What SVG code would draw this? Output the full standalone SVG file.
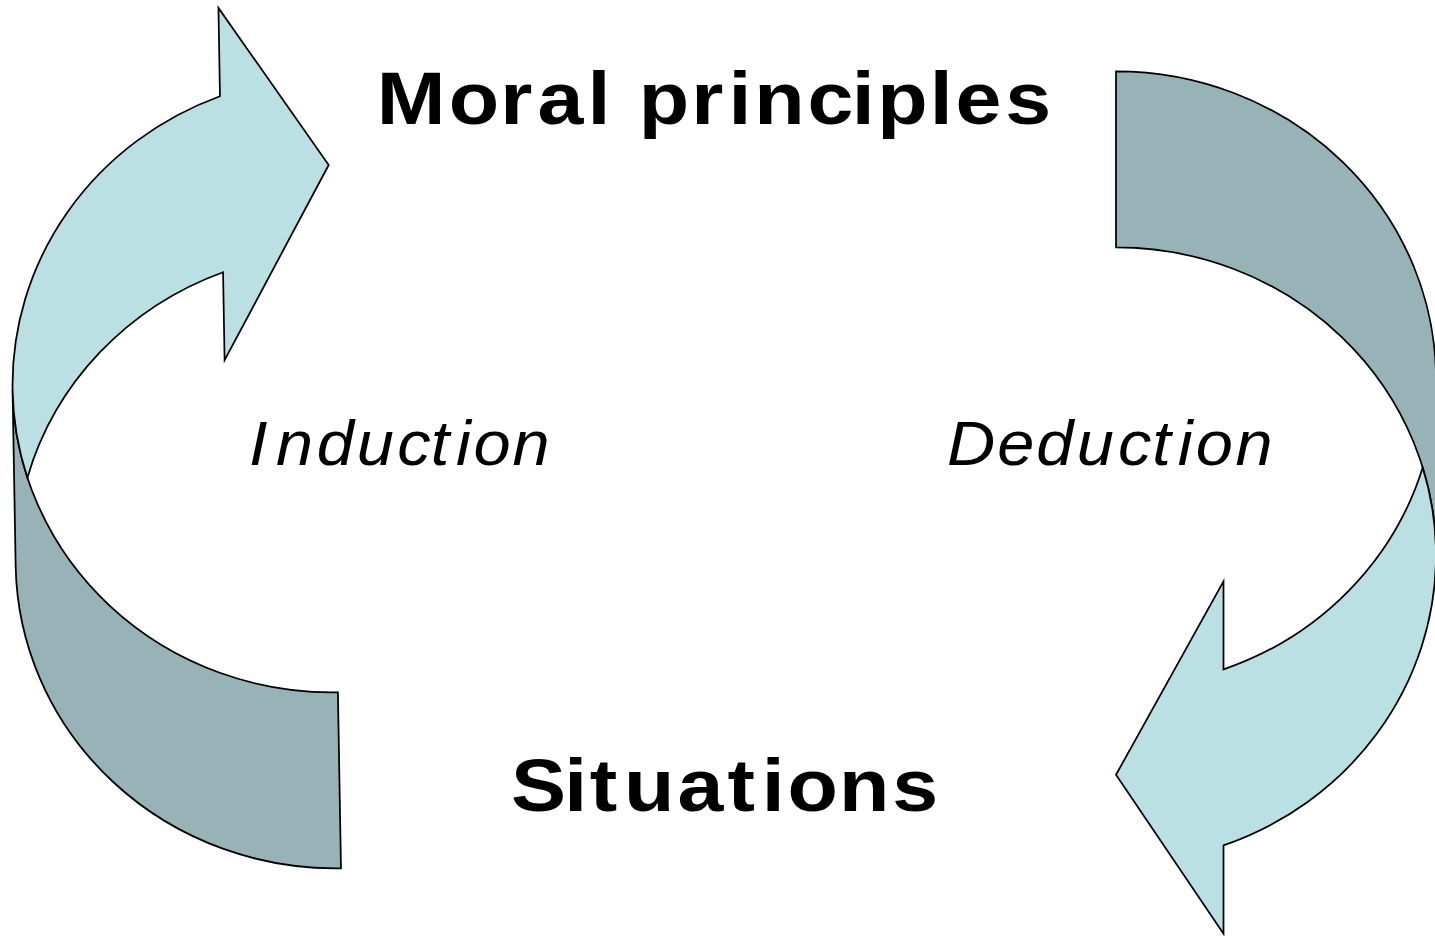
<svg xmlns="http://www.w3.org/2000/svg" xmlns:xlink="http://www.w3.org/1999/xlink" width="1435" height="936" viewBox="0 0 1435 936">
  <style>
    .front { fill: #BBE0E3; stroke: #000; stroke-width: 1.75; stroke-linejoin: miter; }
    .back  { fill: #97B3B7; stroke: #000; stroke-width: 1.75; stroke-linejoin: miter; }
    .title { font-family: "Liberation Sans", Arial, sans-serif; font-weight: bold; font-size: 75px; fill: #000; }
    .label { font-family: "Liberation Sans", Arial, sans-serif; font-style: italic; font-size: 63px; fill: #000; }
  </style>
  <defs>
    <!-- Curved arrow band: dark back half below, light front half with the head on top -->
    <g id="curved-arrow">
      <path class="back" d="M14,387 L14,563 A320,308 0 0 0 334,871 L334,695 A320,308 0 0 1 14,387 Z"/>
      <path class="front" d="M14,387 A320,308 0 0 1 226.5,97 L226.5,8.7 L334,167.6 L226.5,361 L226.5,273 A320,308 0 0 0 27.3,475 A320,308 0 0 1 14,387 Z"/>
    </g>
  </defs>

  <rect width="1435" height="936" fill="#FFFFFF"/>

  <g id="connectors">
    <g id="induction-arrow">
      <use xlink:href="#curved-arrow" href="#curved-arrow" transform="rotate(-1 180 470)"/>
    </g>
    <g id="deduction-arrow">
      <use xlink:href="#curved-arrow" href="#curved-arrow" transform="rotate(180 725 471.2)"/>
    </g>
  </g>

  <!-- Wide lettering: slightly stretched glyphs on a wide per-letter pitch -->
  <g id="moral-principles">
    <text class="title" transform="translate(376.7 124) scale(1.1 1)" x="0 65.4 112.3 146.1 191.6 215.0 238.3 286.0 319.8 343.2 391.7 431.8 455.1 502.8 526.1 571.4" y="0">Moral principles</text>
  </g>
  <g id="situations">
    <text class="title" transform="translate(511 811) scale(1.1 1)" x="0 48.4 71.7 102.8 151.4 196.9 228.0 251.3 298.2 346.7" y="0">Situations</text>
  </g>
  <g id="induction-label">
    <text class="label" transform="translate(249 465) scale(1.06 1)" x="0 25.5 63.9 101.6 139.9 171.4 195.4 211.9 248.7" y="0">Induction</text>
  </g>
  <g id="deduction-label">
    <text class="label" transform="translate(947 465) scale(1.06 1)" x="0 47.5 84.2 122.5 161.4 193.6 217.8 234.7 272.1" y="0">Deduction</text>
  </g>
</svg>
